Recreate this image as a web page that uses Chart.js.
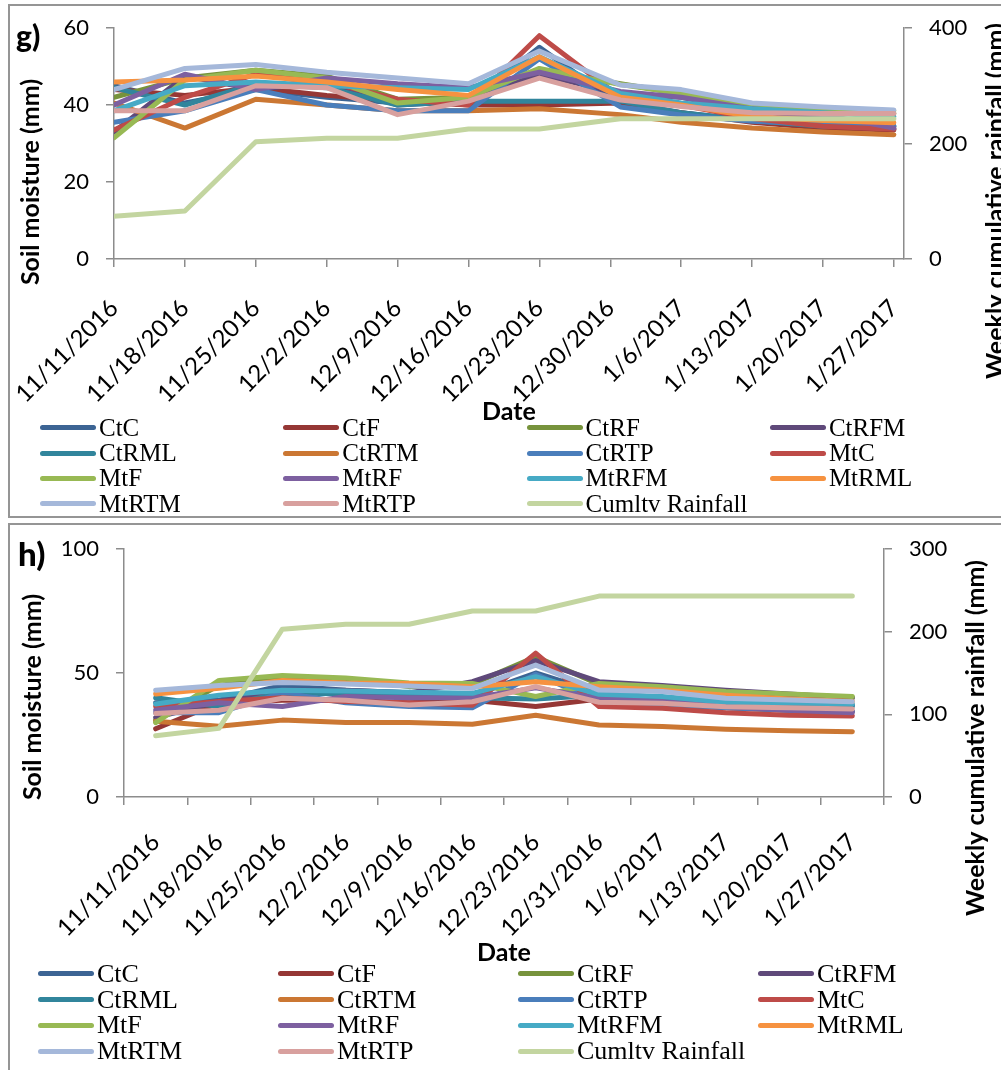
<!DOCTYPE html>
<html>
<head>
<meta charset="utf-8">
<title>Soil moisture and weekly cumulative rainfall</title>
<script src="https://cdn.jsdelivr.net/npm/chart.js@4.4.1/dist/chart.umd.min.js"></script>
<style>
  html, body { margin: 0; padding: 0; background: #fff; }
  body { width: 1001px; height: 1070px; overflow: hidden; position: relative; font-family: Lato, sans-serif; }
  .panel { position: absolute; left: 8px; width: 1010px; border: 2px solid #959595; box-sizing: border-box; }
  #panelG { top: 4px; height: 514px; }
  #panelH { top: 523px; height: 600px; }
  .chart-box { position: absolute; left: 8px; }
  .panel-tag { position: absolute; font-family: Lato, sans-serif; font-weight: 900; color: #000; line-height: 1; }
  .legend { position: absolute; left: 0; top: 0; }
  .legend-item { position: absolute; white-space: nowrap; font-family: "Liberation Serif", "Times New Roman", serif; color: #000; display: flex; align-items: center; }
  .legend-item .swatch { display: inline-block; width: 56px; height: 5px; border-radius: 3px; margin-right: 3px; }
</style>
</head>
<body>
<div class="panel" id="panelG"></div>
<div class="panel" id="panelH"></div>

<div class="chart-box" style="top:5px"><canvas id="chartG" width="1010" height="419"></canvas></div>
<div class="chart-box" style="top:524px"><canvas id="chartH" width="1010" height="441"></canvas></div>

<div class="panel-tag" style="left:16px; top:20px; font-size:30px;">g)</div>
<div class="panel-tag" style="left:18px; top:537px; font-size:33px;">h)</div>

<div class="legend" id="legendG"></div>
<div class="legend" id="legendH"></div>

<script>
// Soil moisture under tillage / residue treatments, weekly readings

const treatments = ['CtC', 'CtF', 'CtRF', 'CtRFM', 'CtRML', 'CtRTM', 'CtRTP',
                    'MtC', 'MtF', 'MtRF', 'MtRFM', 'MtRML', 'MtRTM', 'MtRTP'];
const rainLabel = 'Cumltv Rainfall';

// dates the readings were taken (g is plotted on a date axis, h on a text axis)
const sampleDates = ['11/11/2016', '11/18/2016', '11/25/2016', '12/2/2016', '12/9/2016', '12/16/2016',
                     '12/23/2016', '12/31/2016', '1/6/2017', '1/13/2017', '1/20/2017', '1/27/2017'];
// weekly tick labels of the g date axis
const weekTicksG = ['11/11/2016', '11/18/2016', '11/25/2016', '12/2/2016', '12/9/2016', '12/16/2016',
                    '12/23/2016', '12/30/2016', '1/6/2017', '1/13/2017', '1/20/2017', '1/27/2017'];

// weekly cumulative rainfall (mm), same for both panels
const rainfall = [74, 83, 203, 209, 209, 225, 225, 243, 243, 243, 243, 243];

// panel g soil moisture (mm)
const gCtC   = [45, 40.5, 44, 42, 40.5, 40.5, 55, 40, 38, 36, 35, 34.5];
const gCtF   = [44, 42.5, 44.5, 42.5, 41, 40, 40, 40.5, 38, 35.5, 34, 33.5];
const gCtRF  = [42, 47, 49, 47.5, 41.5, 42, 49, 45.5, 43, 39.5, 38.5, 37.8];
const gCtRFM = [33, 47.5, 44, 46, 40, 41, 48, 43, 42, 38.5, 36.5, 33.8];
const gCtRML = [44.5, 40, 45.5, 44.5, 40, 41, 41, 41, 38, 36, 34.5, 34.4];
const gCtRTM = [40.5, 34, 41.5, 40, 38.5, 38.5, 39, 37.5, 35.5, 34, 33, 32.3];
const gCtRTP = [35.5, 38.5, 44, 40, 38.5, 38.5, 52, 39.5, 37.4, 35.8, 35, 34.6];
const gMtC   = [33.5, 42, 48, 46, 41.5, 40, 58, 42, 40, 36.5, 34.5, 33.7];
const gMtF   = [31.5, 46.5, 49, 47, 40.5, 42, 49.5, 45.3, 43, 39.8, 39, 38.5];
const gMtRF  = [40, 48, 44, 47, 45.5, 44.5, 48.5, 43.5, 42, 39, 37.5, 34];
const gMtRFM = [38.5, 45, 46, 45, 44.5, 44, 52.5, 43, 40.5, 39, 38, 37];
const gMtRML = [46, 46.5, 47.5, 46, 44, 42.5, 52.5, 42, 40, 37, 36, 35.4];
const gMtRTM = [44, 49.5, 50.5, 48.5, 47, 45.5, 54, 45.2, 44, 40.5, 39.5, 38.7];
const gMtRTP = [38.5, 38.5, 45, 44.5, 37.5, 41, 47, 41.3, 39.6, 38, 37.8, 37.8];

// panel h soil moisture (mm)
const hCtC   = [38, 39, 45, 43, 42, 41, 50, 42, 40, 38.5, 37.5, 37];
const hCtF   = [27.5, 38, 39, 39, 38, 39, 36.5, 39.5, 38, 36, 35, 34.5];
const hCtRF  = [31, 45, 48.5, 47.5, 44.5, 45.5, 56.5, 45.5, 44, 42, 41, 40];
const hCtRFM = [32, 38.5, 43, 43, 42, 46.5, 55, 46.5, 45, 43, 41.5, 40];
const hCtRML = [40, 36.5, 42, 41.5, 40.5, 40, 39.5, 41, 39.5, 38, 37, 36.5];
const hCtRTM = [30.5, 28.5, 31, 30, 30, 29.3, 33, 29, 28.4, 27.3, 26.7, 26.3];
const hCtRTP = [34, 34, 42, 38, 36.5, 36, 49.5, 38.5, 37, 36, 35, 34.5];
const hMtC   = [36.5, 38.5, 40, 38.5, 38, 37, 58, 36.5, 35.8, 34, 33, 32.7];
const hMtF   = [30, 47, 49, 48, 46, 45.8, 40.5, 45.8, 44.5, 42.5, 41.5, 40.5];
const hMtRF  = [35, 38, 36.5, 40.5, 40, 40, 44, 39.8, 38.5, 36.5, 35, 34];
const hMtRFM = [37.5, 41, 43, 42.7, 42.2, 41.8, 48.5, 41.4, 40.5, 38.2, 38, 37.5];
const hMtRML = [41.5, 43.8, 47, 46, 45.8, 44.5, 46.5, 44.5, 43, 41, 39.5, 38.5];
const hMtRTM = [43, 45, 46.2, 45.6, 44.8, 43.8, 53.2, 43.1, 42.5, 39.8, 39.1, 38.4];
const hMtRTP = [33.7, 35, 39.8, 39, 37.1, 38.4, 44.5, 38.2, 37.8, 36.4, 36, 35.5];

const soilG = [gCtC, gCtF, gCtRF, gCtRFM, gCtRML, gCtRTM, gCtRTP, gMtC, gMtF, gMtRF, gMtRFM, gMtRML, gMtRTM, gMtRTP];
const soilH = [hCtC, hCtF, hCtRF, hCtRFM, hCtRML, hCtRTM, hCtRTP, hMtC, hMtF, hMtRF, hMtRFM, hMtRML, hMtRTM, hMtRTP];

// Excel-like series palette (14 treatments + rainfall)
const palette = ['#3c6494', '#953735', '#77933c', '#5f497a', '#31859c', '#cb7733', '#4a7ebb',
                 '#be4b48', '#98b954', '#7d60a0', '#46aac5', '#f69240', '#a5b8da', '#d8a09e'];
const rainColor = '#c3d5a0';

const AXIS_GREY = '#8c8c8c';
const TICK_FONT = { family: 'Lato', size: 22 };

Chart.defaults.font.family = 'Lato';
Chart.defaults.color = '#000';

function dayOffset(dateStr) {
  const [m, d, y] = dateStr.split('/').map(Number);
  return Date.UTC(y, m - 1, d) / 86400000;
}

/**
 * Draws the vertical axis titles (both read bottom-to-top, like Excel)
 */
const sideTitles = {
  id: 'sideTitles',
  afterDraw(chart, args, opts) {
    const ctx = chart.ctx;
    (opts.items || []).forEach(t => {
      ctx.save();
      ctx.translate(t.x, t.y);
      ctx.rotate(-Math.PI / 2);
      ctx.font = 'bold 25px Lato';
      ctx.fillStyle = '#000';
      ctx.textAlign = 'center';
      ctx.textBaseline = 'middle';
      ctx.fillText(t.text, 0, 0);
      ctx.restore();
    });
  }
};

function buildDatasets(soil, toPoints) {
  const sets = soil.map((values, i) => ({
    label: treatments[i],
    data: toPoints(values),
    borderColor: palette[i],
    backgroundColor: palette[i],
    yAxisID: 'y',
    order: 20 - i
  }));
  sets.push({
    label: rainLabel,
    data: toPoints(rainfall),
    borderColor: rainColor,
    backgroundColor: rainColor,
    yAxisID: 'y1',
    order: 1
  });
  return sets;
}

function yScale(position, max, step, width) {
  return {
    position: position,
    min: 0,
    max: max,
    ticks: { stepSize: step, font: TICK_FONT, color: '#000', padding: 17 },
    grid: { drawOnChartArea: false, color: AXIS_GREY, lineWidth: 1.5, tickLength: 8 },
    border: { color: AXIS_GREY, width: 1.5 },
    // fixed width, and keep tick padding from pushing the plot area down
    afterFit: scale => {
      scale.width = width;
      scale.paddingTop = 0;
      scale.paddingBottom = 0;
    }
  };
}

function baseOptions(layoutTop, yLeft, yRight, xScale, titles) {
  return {
    responsive: false,
    devicePixelRatio: 1,
    animation: false,
    events: [],
    layout: { padding: { top: layoutTop, left: 0, right: 0, bottom: 0 } },
    elements: {
      line: { borderWidth: 5, tension: 0, borderJoinStyle: 'round', borderCapStyle: 'round' },
      point: { radius: 0 }
    },
    plugins: {
      legend: { display: false },
      tooltip: { enabled: false },
      sideTitles: { items: titles }
    },
    scales: { x: xScale, y: yLeft, y1: yRight }
  };
}

function xTitle() {
  return { display: true, text: 'Date', font: { family: 'Lato', size: 25, weight: 'bold', lineHeight: 1 }, color: '#000', padding: 0 };
}

function fitX(height) {
  return scale => {
    scale.height = height;
    scale.paddingLeft = 0;
    scale.paddingRight = 0;
  };
}

/**
 * Panel g: date axis, points sit on the weekly tick marks
 */
function initChartG() {
  const start = dayOffset(sampleDates[0]);
  const toPoints = values => values.map((v, i) => ({ x: dayOffset(sampleDates[i]) - start, y: v }));

  const xScale = {
    type: 'linear',
    min: 0,
    max: 78,
    ticks: {
      stepSize: 7,
      includeBounds: false,
      autoSkip: false,
      maxRotation: 45,
      minRotation: 45,
      font: { family: 'Lato', size: 24 },
      color: '#000',
      padding: 27,
      callback: value => weekTicksG[Math.round(value / 7)] || ''
    },
    grid: { drawOnChartArea: false, color: AXIS_GREY, lineWidth: 1.5, tickLength: 8 },
    border: { color: AXIS_GREY, width: 1.5 },
    title: xTitle(),
    afterFit: fitX(165)
  };

  return new Chart(document.getElementById('chartG'), {
    type: 'line',
    data: { datasets: buildDatasets(soilG, toPoints) },
    options: baseOptions(23,
      yScale('left', 60, 20, 106),
      yScale('right', 400, 200, 114),
      xScale,
      [
        { text: 'Soil moisture (mm)', x: 23, y: 177 },
        { text: 'Weekly cumulative rainfall (mm)', x: 988, y: 196 }
      ])
  });
}

/**
 * Panel h: text axis, points centred between tick marks
 */
function initChartH() {
  const xScale = {
    type: 'category',
    offset: true,
    ticks: {
      autoSkip: false,
      maxRotation: 45,
      minRotation: 45,
      font: { family: 'Lato', size: 24 },
      color: '#000',
      padding: 23
    },
    grid: { offset: true, drawOnChartArea: false, color: AXIS_GREY, lineWidth: 1.5, tickLength: 8 },
    border: { color: AXIS_GREY, width: 1.5 },
    title: xTitle(),
    afterFit: fitX(168)
  };

  return new Chart(document.getElementById('chartH'), {
    type: 'line',
    data: { labels: sampleDates, datasets: buildDatasets(soilH, values => values.slice()) },
    options: baseOptions(25,
      yScale('left', 100, 50, 116),
      yScale('right', 300, 100, 134),
      xScale,
      [
        { text: 'Soil moisture (mm)', x: 25, y: 173 },
        { text: 'Weekly cumulative rainfall (mm)', x: 968, y: 214 }
      ])
  });
}

/**
 * Four-column legend under each panel, built from the chart's datasets
 */
function buildLegend(chart, el, cfg) {
  chart.data.datasets.forEach((ds, i) => {
    const col = i % 4;
    const row = Math.floor(i / 4);
    const item = document.createElement('div');
    item.className = 'legend-item';
    item.style.left = (cfg.x0 + col * cfg.colPitch) + 'px';
    item.style.top = (cfg.y0 + row * cfg.rowPitch - cfg.rowPitch / 2) + 'px';
    item.style.height = cfg.rowPitch + 'px';
    item.style.fontSize = cfg.fontSize + 'px';
    const sw = document.createElement('span');
    sw.className = 'swatch';
    sw.style.background = ds.borderColor;
    const txt = document.createElement('span');
    txt.textContent = ds.label;
    item.appendChild(sw);
    item.appendChild(txt);
    el.appendChild(item);
  });
}

document.addEventListener('DOMContentLoaded', () => {
  Chart.register(sideTitles);
  const g = initChartG();
  const h = initChartH();
  buildLegend(g, document.getElementById('legendG'), { x0: 40, colPitch: 243.3, y0: 428, rowPitch: 25.2, fontSize: 25 });
  buildLegend(h, document.getElementById('legendH'), { x0: 38, colPitch: 240, y0: 974, rowPitch: 25.7, fontSize: 26 });
});
</script>
</body>
</html>
